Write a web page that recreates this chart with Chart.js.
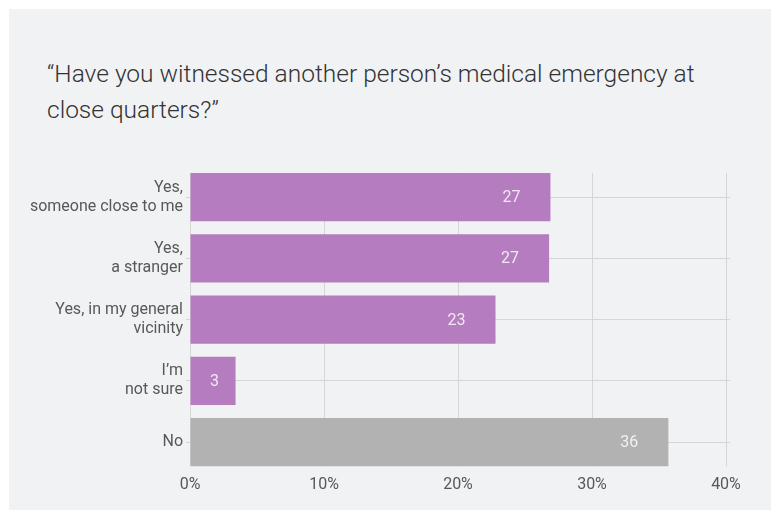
<!DOCTYPE html>
<html>
<head>
<meta charset="utf-8">
<script src="https://cdn.jsdelivr.net/npm/chart.js@4"></script>
<style>
  html, body { margin: 0; padding: 0; background: #ffffff; }
  body { width: 771px; height: 510px; position: relative; overflow: hidden; }
  .panel { position: absolute; left: 9px; top: 9px; right: 0; bottom: 0; background: #f1f2f4; }
  .title {
    position: absolute; left: 47px; top: 56px; width: 665px;
    font-family: Roboto, sans-serif; font-weight: 300; font-size: 24.5px;
    line-height: 36px; color: #333333;
  }
  .chart-box { position: absolute; left: 0; top: 140px; width: 771px; height: 370px; }
</style>
</head>
<body>
<div class="panel"></div>
<div class="title">“Have you witnessed another person’s medical emergency at close quarters?”</div>
<div class="chart-box"><canvas id="chart"></canvas></div>

<script>
// --- DATI ---
const categories = [
  ["Yes,", "someone close to me"],
  ["Yes,", "a stranger"],
  ["Yes, in my general", "vicinity"],
  ["I’m", "not sure"],
  "No"
];
const shares = [26.9, 26.8, 22.8, 3.4, 35.7];
const shownLabels = ["27", "27", "23", "3", "36"];
const xTicks = [0, 10, 20, 30, 40];

const purple = "#b57cbf";
const grey = "#b3b2b2";
const barColors = [purple, purple, purple, purple, grey];
const gridColor = "#d6d6d6";

// griglia verticale solo tra la prima e l'ultima barra
const xGrid = {
  id: "xGrid",
  beforeDatasetsDraw(chart) {
    const ctx = chart.ctx;
    const bars = chart.getDatasetMeta(0).data;
    const top = bars[0].y - bars[0].height / 2;
    const last = bars[bars.length - 1];
    const bottom = last.y + last.height / 2;
    const xs = chart.scales.x;
    ctx.save();
    ctx.strokeStyle = gridColor;
    ctx.lineWidth = 1;
    xTicks.forEach(t => {
      const x = Math.round(xs.getPixelForValue(t)) + 0.5;
      ctx.beginPath();
      ctx.moveTo(x, top);
      ctx.lineTo(x, bottom);
      ctx.stroke();
    });
    ctx.restore();
  }
};

// etichette dentro le barre
const valueLabels = {
  id: "valueLabels",
  afterDatasetsDraw(chart) {
    const ctx = chart.ctx;
    const meta = chart.getDatasetMeta(0);
    ctx.save();
    ctx.font = "16px Roboto, sans-serif";
    ctx.fillStyle = "rgba(255,255,255,0.82)";
    ctx.textAlign = "center";
    ctx.textBaseline = "middle";
    meta.data.forEach((bar, i) => {
      const x = Math.max(bar.x - 39, bar.base + 24);
      ctx.fillText(shownLabels[i], x, bar.y + 1);
    });
    ctx.restore();
  }
};

new Chart(document.getElementById("chart"), {
  type: "bar",
  data: {
    labels: categories,
    datasets: [{
      data: shares,
      backgroundColor: barColors,
      borderWidth: 0,
      categoryPercentage: 1,
      barPercentage: 0.79
    }]
  },
  options: {
    indexAxis: "y",
    responsive: true,
    maintainAspectRatio: false,
    animation: false,
    layout: { padding: { top: 26.5, right: 41, bottom: 12, left: 0 } },
    plugins: {
      legend: { display: false },
      tooltip: { enabled: false }
    },
    scales: {
      x: {
        min: 0,
        max: 40.3,
        border: { display: false },
        grid: { display: true, drawOnChartArea: false, drawTicks: false },
        ticks: {
          stepSize: 10,
          includeBounds: false,
          padding: 3,
          color: "#585858",
          font: { family: "Roboto, sans-serif", size: 16 },
          callback: v => xTicks.includes(v) ? v + "%" : ""
        }
      },
      y: {
        afterFit: scale => { scale.width = 190; },
        border: { display: false },
        grid: { color: gridColor, lineWidth: 1, offset: false, tickLength: 4 },
        ticks: {
          padding: 3,
          color: "#585858",
          font: { family: "Roboto, sans-serif", size: 16, lineHeight: 1.18 }
        }
      }
    }
  },
  plugins: [xGrid, valueLabels]
});
</script>
</body>
</html>
